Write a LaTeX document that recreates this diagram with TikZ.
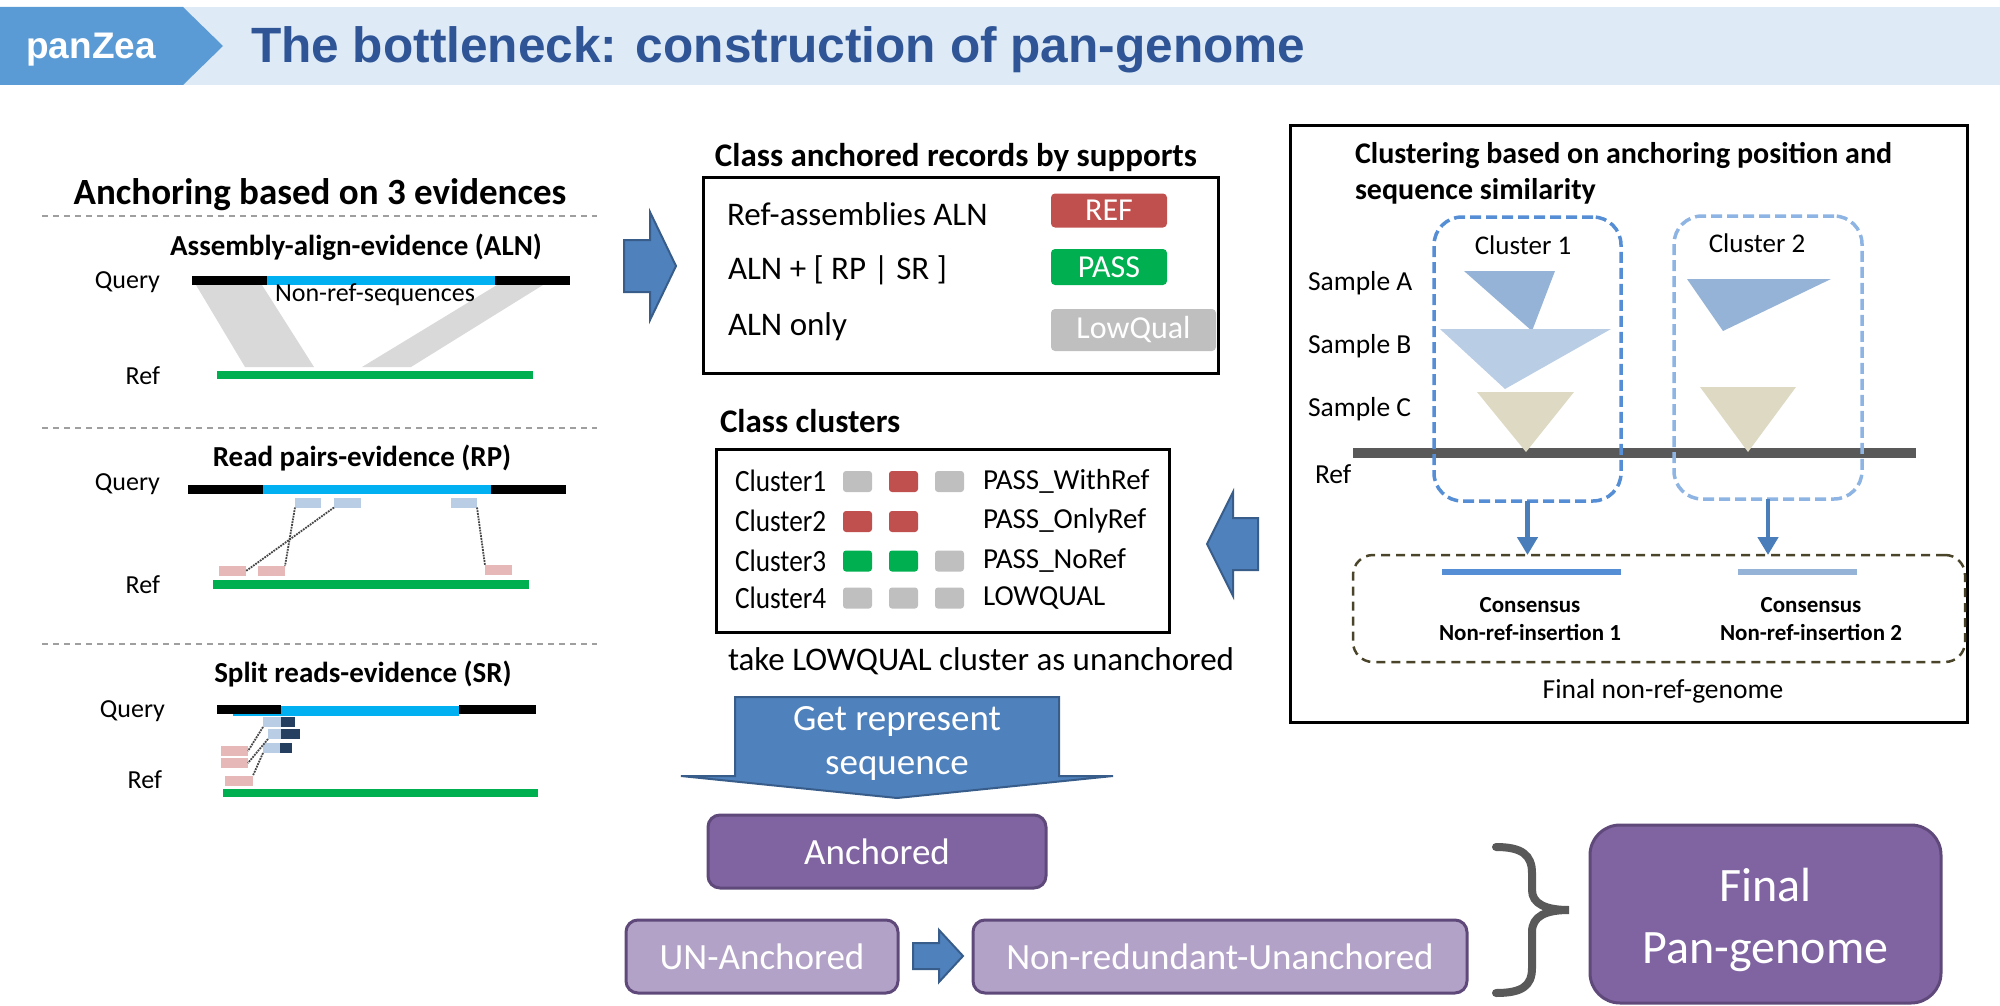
\documentclass[tikz,border=0pt]{standalone}
\usepackage{fontspec}
\setmainfont{Carlito}
\newfontfamily\arialfont{Liberation Sans}
\newfontfamily\condfont{Carlito}[FakeStretch=0.88]
\usetikzlibrary{arrows.meta}
\newcommand\fsz[1]{\fontsize{#1pt}{#1pt}\selectfont}

\definecolor{bannerbg}{HTML}{DEEBF7}
\definecolor{bannerdk}{HTML}{5B9BD5}
\definecolor{titleblue}{HTML}{2F5597}
\definecolor{qblue}{HTML}{00B0F0}
\definecolor{rgreen}{HTML}{00B050}
\definecolor{bandgray}{HTML}{D9D9D9}
\definecolor{readblue}{HTML}{B9CDE5}
\definecolor{readpink}{HTML}{E6B9B8}
\definecolor{readnavy}{HTML}{243F60}
\definecolor{arrblue}{HTML}{4F81BD}
\definecolor{arrline}{HTML}{385D8A}
\definecolor{badgered}{HTML}{C0504D}
\definecolor{badgegray}{HTML}{BFBFBF}
\definecolor{purpdk}{HTML}{8064A2}
\definecolor{purplt}{HTML}{B3A2C7}
\definecolor{purpline}{HTML}{5F497A}
\definecolor{clu1}{HTML}{558ED5}
\definecolor{clu2}{HTML}{8EB4E3}
\definecolor{triA}{HTML}{95B3D7}
\definecolor{triB}{HTML}{B9CDE5}
\definecolor{triC}{HTML}{DDD9C3}
\definecolor{refgray}{HTML}{595959}
\definecolor{consline}{HTML}{4A452A}
\definecolor{downblue}{HTML}{4A7EBB}

\tikzset{
  every node/.style={inner sep=0pt, outer sep=0pt},
  heading/.style={font=\bfseries\fsz{33}},
  subhead/.style={font=\bfseries\fsz{29}},
  lbl/.style={font=\fsz{26}, anchor=east},
  sepline/.style={draw=gray!75, line width=1.5pt, dash pattern=on 6pt off 5pt},
  band/.style={fill=bandgray},
  read/.style={rectangle, minimum height=10pt},
  pinkread/.style={read, fill=readpink},
  blueread/.style={read, fill=readblue},
  navyread/.style={read, fill=readnavy},
  pairlink/.style={draw=gray!55!black, line width=1.8pt, densely dotted},
  blockarrow/.style={fill=arrblue, draw=arrline, line width=2pt, line join=miter},
  mainbox/.style={draw=black, line width=3pt},
  rowtext/.style={font=\fsz{33}, anchor=west},
  badge/.style={rectangle, rounded corners=4pt, text=white, font=\fsz{32}, minimum height=34pt},
  sq/.style={rectangle, rounded corners=3pt, minimum width=29pt, minimum height=21pt},
  cname/.style={font=\condfont\fsz{31}, anchor=west},
  cstat/.style={font=\fsz{29}, anchor=west},
  purpbox/.style={rectangle, rounded corners=12pt, draw=purpline, line width=3pt, text=white, font=\fsz{37}},
  clubox/.style={rectangle, rounded corners=28pt, line width=3.5pt, dash pattern=on 11pt off 5pt},
  downarr/.style={draw=downblue, line width=4.5pt, -{Triangle[width=20pt,length=18pt]}},
  smp/.style={font=\fsz{27.5}, anchor=west},
  brace/.style={draw=refgray, line width=8pt, line cap=round}
}

\begin{document}
\begin{tikzpicture}[x=1pt, y=-1pt]
\useasboundingbox (0,0) rectangle (2000,1006);

% ---------- banner ----------
\fill[bannerbg] (0,7) rectangle (2000,85);
\fill[bannerdk] (0,7) -- (183,7) -- (223,46) -- (183,85) -- (0,85) -- cycle;
\node[text=white, font=\arialfont\bfseries\fsz{37}] (brand) at (91,50) {panZea};
\node[text=titleblue, font=\arialfont\bfseries\fsz{49.6}, anchor=west] (title) at (251,50) {The bottleneck: construction of pan-genome};

% ---------- left panel: anchoring evidences ----------
\node[font=\bfseries\fsz{37}] (hanchor) at (320,195) {Anchoring based on 3 evidences};
\draw[sepline] (42,216) -- (597,216);
\draw[sepline] (42,428) -- (597,428);
\draw[sepline] (42,644) -- (597,644);

% assembly alignment evidence
\node[subhead] (alnhead) at (356,247) {Assembly-align-evidence (ALN)};
\fill[band] (196,285) -- (262,285) -- (314,367) -- (245,367) -- cycle;
\fill[band] (497,285) -- (543,285) -- (411,367) -- (362,367) -- cycle;
\fill[black] (192,276) rectangle (267,285);
\fill[qblue] (267,276) rectangle (495,285);
\fill[black] (495,276) rectangle (570,285);
\fill[rgreen] (217,371) rectangle (533,379);
\node[lbl] (qaln) at (160,282) {Query};
\node[lbl] (raln) at (160,376) {Ref};
\node[font=\fsz{26}] (nonref) at (375,295) {Non-ref-sequences};

% read pair evidence
\node[subhead] (rphead) at (362,458) {Read pairs-evidence (RP)};
\fill[black] (188,485) rectangle (263,494);
\fill[qblue] (263,485) rectangle (491,494);
\fill[black] (491,485) rectangle (566,494);
\fill[rgreen] (213,580) rectangle (529,589);
\node[lbl] (qrp) at (160,484) {Query};
\node[lbl] (rrp) at (160,585) {Ref};
\node[blueread, minimum width=26pt] (rb1) at (308,502.5) {};
\node[blueread, minimum width=27pt] (rb2) at (347.5,502.5) {};
\node[blueread, minimum width=26pt] (rb3) at (464,502.5) {};
\node[pinkread, minimum width=27pt] (rp1) at (232.5,571) {};
\node[pinkread, minimum width=27pt] (rp2) at (271.5,571) {};
\node[pinkread, minimum width=27pt] (rp3) at (498.5,570) {};
\draw[pairlink] (rb1.south west) -- (rp2.north east);
\draw[pairlink] (rb2.south west) -- (rp1.east);
\draw[pairlink] (rb3.south east) -- (rp3.north west);

% split read evidence
\node[subhead] (srhead) at (363,674) {Split reads-evidence (SR)};
\fill[qblue] (233,706) rectangle (459,716);
\fill[black] (217,705) rectangle (281,714);
\fill[black] (459,705) rectangle (536,714);
\fill[rgreen] (223,789) rectangle (538,797);
\node[lbl] (qsr) at (165,711) {Query};
\node[lbl] (rsr) at (162,780) {Ref};
\node[blueread, minimum width=18pt] (sl1) at (272,722) {};
\node[navyread, minimum width=14pt] (sn1) at (288,722) {};
\node[blueread, minimum width=13pt] (sl2) at (274.5,734) {};
\node[navyread, minimum width=19pt] (sn2) at (290.5,734) {};
\node[blueread, minimum width=17pt] (sl3) at (271.5,748) {};
\node[navyread, minimum width=12pt] (sn3) at (286,748) {};
\node[pinkread, minimum width=27pt] (sp1) at (234.5,751) {};
\node[pinkread, minimum width=27pt] (sp2) at (234.5,763) {};
\node[pinkread, minimum width=28pt] (sp3) at (239,780.5) {};
\draw[pairlink] (sl1.south west) -- (sp1.east);
\draw[pairlink] (sl2.south west) -- (sp2.east);
\draw[pairlink] (sl3.south west) -- (sp3.north east);

% ---------- middle: classification of anchored records ----------
\draw[blockarrow] (624,240) -- (650,240) -- (650,212) -- (676,266) -- (650,320) -- (650,292) -- (624,292) -- cycle;

\node[heading] (hclass) at (956,158) {Class anchored records by supports};
\node[mainbox, rectangle, minimum width=515pt, minimum height=196pt] (recbox) at (960.5,275) {};
\node[rowtext] (row1) at (727,214) {Ref-assemblies ALN};
\node[rowtext] (row2) at (728,270) {ALN + [ RP | SR ]};
\node[rowtext] (row3) at (728,327) {ALN only};
\node[badge, fill=badgered, minimum width=116pt] (bref) at (1109,210.5) {REF};
\node[badge, fill=rgreen, minimum width=116pt, minimum height=36pt] (bpass) at (1109,267) {PASS};
\node[badge, fill=badgegray, minimum width=165pt, minimum height=42pt] (blow) at (1133.5,330) {LowQual};

% cluster classes
\node[heading, anchor=west] (hclu) at (720,421) {Class clusters};
\node[mainbox, rectangle, minimum width=453pt, minimum height=183pt] (clubox) at (942.5,540.5) {};
\node[cname] (cn1) at (735,481) {Cluster1};
\node[cname] (cn2) at (735,521) {Cluster2};
\node[cname] (cn3) at (735,561) {Cluster3};
\node[cname] (cn4) at (735,598) {Cluster4};
\node[sq, fill=badgegray] (s11) at (857.5,481.5) {};
\node[sq, fill=badgered]  (s12) at (903.5,481.5) {};
\node[sq, fill=badgegray] (s13) at (949.5,481.5) {};
\node[sq, fill=badgered]  (s21) at (857.5,521.5) {};
\node[sq, fill=badgered]  (s22) at (903.5,521.5) {};
\node[sq, fill=rgreen]    (s31) at (857.5,561) {};
\node[sq, fill=rgreen]    (s32) at (903.5,561) {};
\node[sq, fill=badgegray] (s33) at (949.5,561) {};
\node[sq, fill=badgegray] (s41) at (857.5,598) {};
\node[sq, fill=badgegray] (s42) at (903.5,598) {};
\node[sq, fill=badgegray] (s43) at (949.5,598) {};
\node[cstat] (st1) at (983,481) {PASS\_WithRef};
\node[cstat] (st2) at (983,521) {PASS\_OnlyRef};
\node[cstat] (st3) at (983,561) {PASS\_NoRef};
\node[cstat] (st4) at (983,598) {LOWQUAL};
\node[rowtext] (lowq) at (728,661) {take LOWQUAL cluster as unanchored};

\draw[blockarrow] (1258,518) -- (1233,518) -- (1233,492) -- (1207,544) -- (1233,596) -- (1233,570) -- (1258,570) -- cycle;

% ---------- bottom: representative sequences ----------
\draw[blockarrow] (735,697) -- (1059,697) -- (1059,776) -- (1113,776) -- (897,798) -- (681,776) -- (735,776) -- cycle;
\node[text=white, font=\fsz{37}, align=center] (getrep) at (897,743) {Get represent\\[7pt]sequence};

\node[purpbox, fill=purpdk, minimum width=338pt, minimum height=73pt] (anch) at (877,851.5) {Anchored};
\node[purpbox, fill=purplt, minimum width=272pt, minimum height=73pt] (unanch) at (762,956.5) {UN-Anchored};
\node[purpbox, fill=purplt, minimum width=494pt, minimum height=73pt] (nrun) at (1220,956.5) {Non-redundant-Unanchored};
\draw[blockarrow] (913,943) -- (939,943) -- (939,930) -- (963,956) -- (939,982) -- (939,969) -- (913,969) -- cycle;

\draw[brace] (1496,847) .. controls (1522,847) and (1532,855) .. (1532,873)
  -- (1532,890) .. controls (1532,904) and (1546,910) .. (1569,910)
  .. controls (1546,910) and (1532,916) .. (1532,932)
  -- (1532,968) .. controls (1532,986) and (1522,993) .. (1496,993);

\node[purpbox, fill=purpdk, rounded corners=30pt, minimum width=351pt, minimum height=178pt] (final) at (1765.5,914) {};
\node[text=white, font=\fsz{48}, align=center] (finaltxt) at (final.center) [yshift=-6pt] {Final\\[14pt]Pan-genome};

% ---------- right panel: clustering ----------
\node[mainbox, rectangle, minimum width=677pt, minimum height=596pt] (clpanel) at (1628.5,424) {};
\node[font=\bfseries\fsz{30}, anchor=north west, align=left] (hclust) at (1355,142) {Clustering based on anchoring position and\\[6pt]sequence similarity};

\node[smp] (sa) at (1308,283) {Sample A};
\node[smp] (sb) at (1308,346) {Sample B};
\node[smp] (sc) at (1308,409) {Sample C};
\node[smp] (refr) at (1315,474) {Ref};

\fill[refgray] (1353,448) rectangle (1916,458);
\fill[triA] (1464,271) -- (1555,271) -- (1532,331) -- cycle;
\fill[triB] (1440,329) -- (1611,329) -- (1505,389) -- cycle;
\fill[triC] (1477,392) -- (1574,392) -- (1526,452) -- cycle;
\fill[triA] (1687,279) -- (1831,279) -- (1723,331) -- cycle;
\fill[triC] (1700,387) -- (1796,387) -- (1748,452) -- cycle;

\node[clubox, draw=clu1, minimum width=187pt, minimum height=284pt] (c1box) at (1527.5,359) {};
\node[clubox, draw=clu2, minimum width=188pt, minimum height=283pt] (c2box) at (1768,357.5) {};
\node[font=\fsz{27}] (c1lbl) at (1523,245) {Cluster 1};
\node[font=\fsz{27}] (c2lbl) at (1757,243) {Cluster 2};

\node[clubox, draw=consline, line width=2.5pt, rounded corners=20pt, dash pattern=on 9pt off 6pt, minimum width=612pt, minimum height=107pt] (cbox) at (1659,608.5) {};
\draw[downarr] (c1box.south) -- (c1box.south |- cbox.north);
\draw[downarr] (c2box.south) -- (c2box.south |- cbox.north);

\fill[clu1] (1442,569) rectangle (1621,575);
\fill[triA] (1738,569) rectangle (1857,575);
\node[font=\bfseries\fsz{23}, align=center] (cons1) at (1530,619) {Consensus\\[5pt]Non-ref-insertion 1};
\node[font=\bfseries\fsz{23}, align=center] (cons2) at (1811,619) {Consensus\\[5pt]Non-ref-insertion 2};
\node[font=\fsz{27.5}] (finalnr) at (1663,691) {Final non-ref-genome};

\end{tikzpicture}
\end{document}
